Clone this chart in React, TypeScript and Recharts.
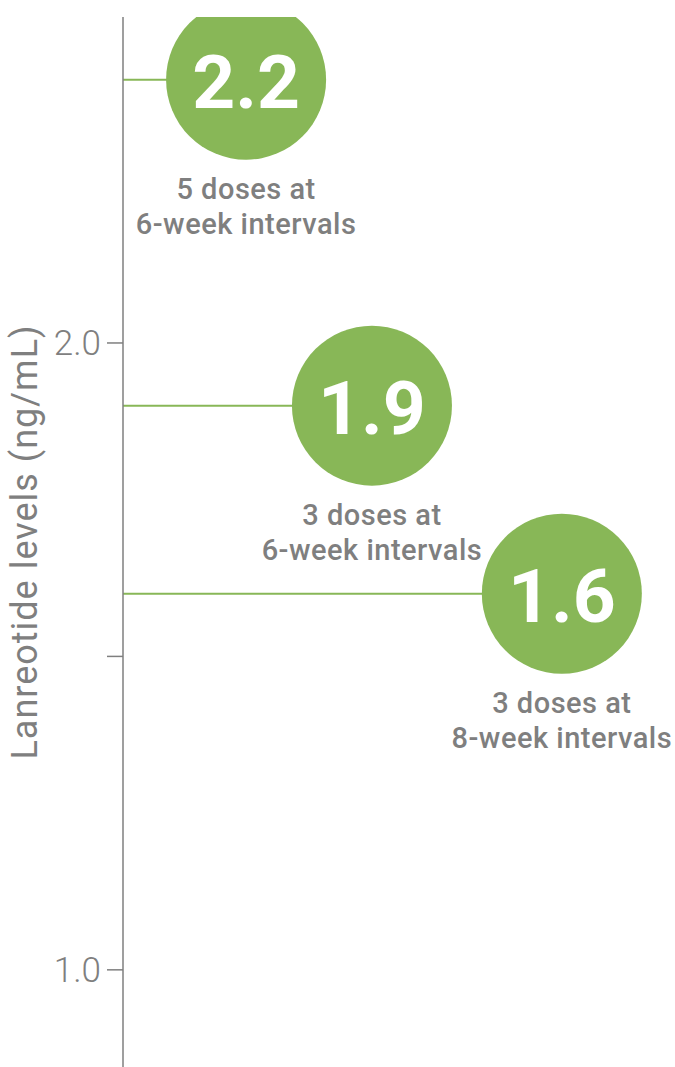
import { ScatterChart, Scatter, XAxis, YAxis, ReferenceLine } from 'recharts';

// printed values inside the circles
const valueLabels = ['2.2', '1.9', '1.6'];
// vertical level each circle sits at on the axis
// (the 2.2 circle is drawn well above its nominal level in the source)
const plottedLevels = [2.42, 1.9, 1.6];
const doseLines = ['5 doses at', '3 doses at', '3 doses at'];
const intervalLines = ['6-week intervals', '6-week intervals', '8-week intervals'];

const yTicks = [1.0, 1.5, 2.0];
const yTickLabels = ['1.0', '', '2.0'];
const yAxisTitle = 'Lanreotide levels (ng/mL)';

// horizontal placement of each circle, in x-axis units (0–100)
const circleSlots = [22.3, 45.1, 79.5];

const GREEN = '#88b757';
const GREY = '#7f7f7f';
const FONT = 'Roboto, "Noto Sans", sans-serif';
const RADIUS = 80;

const data = valueLabels.map((label, i) => ({
  x: circleSlots[i],
  y: plottedLevels[i],
  label,
  doses: doseLines[i],
  interval: intervalLines[i],
}));

function Bubble(props: any) {
  const { cx, cy, payload } = props;
  const caption = {
    textAnchor: 'middle' as const,
    fill: GREY,
    fontFamily: FONT,
    fontWeight: 500,
    fontSize: 29,
    letterSpacing: 0.5,
  };
  return (
    <g>
      <circle cx={cx} cy={cy} r={RADIUS} fill={GREEN} />
      <text
        x={cx}
        y={cy + 28}
        textAnchor="middle"
        fill="#fff"
        fontFamily={FONT}
        fontWeight={700}
        fontSize={75}
      >
        {payload.label}
      </text>
      <text x={cx} y={cy + 119} {...caption}>
        {payload.doses}
      </text>
      <text x={cx} y={cy + 154} {...caption}>
        {payload.interval}
      </text>
    </g>
  );
}

function AxisTitle(props: any) {
  const { viewBox } = props;
  const x = viewBox.x + 37;
  const y = viewBox.y + viewBox.height / 2;
  return (
    <text
      x={x}
      y={y}
      transform={`rotate(-90, ${x}, ${y})`}
      textAnchor="middle"
      fill={GREY}
      fontFamily={FONT}
      fontSize={36}
      letterSpacing={1}
    >
      {yAxisTitle}
    </text>
  );
}

export default function App() {
  return (
    <div style={{ position: 'absolute', left: 0, top: 0, background: '#fff' }}>
      <ScatterChart width={675} height={1067} margin={{ top: 17, right: 0, bottom: 0, left: 0 }}>
        <XAxis type="number" dataKey="x" domain={[0, 100]} hide />
        <YAxis
          type="number"
          dataKey="y"
          domain={[0.845, 2.52]}
          ticks={yTicks}
          tickFormatter={(v: number) => yTickLabels[yTicks.indexOf(v)] ?? ''}
          width={123}
          tickSize={16}
          tickMargin={6}
          axisLine={{ stroke: GREY, strokeWidth: 1.5 }}
          tickLine={{ stroke: GREY, strokeWidth: 1.5 }}
          tick={{ fill: GREY, fontFamily: FONT, fontWeight: 300, fontSize: 35 }}
          label={<AxisTitle />}
          allowDataOverflow
        />
        {data.map((d) => (
          <ReferenceLine
            key={d.label}
            segment={[
              { x: 0, y: d.y },
              { x: d.x, y: d.y },
            ]}
            stroke={GREEN}
            strokeWidth={2}
          />
        ))}
        <Scatter data={data} shape={<Bubble />} isAnimationActive={false} />
      </ScatterChart>
    </div>
  );
}
